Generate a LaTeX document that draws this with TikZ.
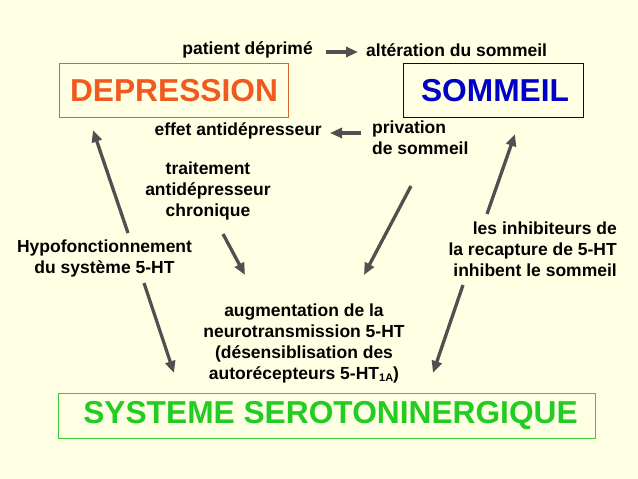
\documentclass[tikz,border=0pt]{standalone}
\usepackage{fontspec}
\setmainfont{Liberation Sans}
\usetikzlibrary{arrows.meta}
\definecolor{bg}{HTML}{FFFFE3}
\definecolor{arr}{HTML}{505050}
\definecolor{deporange}{HTML}{F05A1E}
\definecolor{depborder}{HTML}{D2692D}
\definecolor{sblue}{HTML}{0000C8}
\definecolor{sborder}{HTML}{000070}
\definecolor{sgreen}{HTML}{22CC22}
\definecolor{gborder}{HTML}{3CC83C}
\tikzset{
  small/.style={font=\fontsize{17.5}{21}\selectfont\bfseries, inner sep=0pt, align=center},
  bigbox/.style={draw, line width=1pt, font=\fontsize{31.7}{34}\selectfont\bfseries, inner sep=0pt},
  conn/.style={draw=arr, line width=3.3pt, -{Triangle[length=12pt,width=10pt]}},
}
\begin{document}
\begin{tikzpicture}[x=1pt,y=-1pt]
\fill[bg] (0,0) rectangle (638,479);
\useasboundingbox (0,0) rectangle (638,479);

% boxes
\draw[depborder, line width=1pt] (59,63) rectangle (288,117);
\node[bigbox, draw=none, text=deporange] (dep) at (174,91) {DEPRESSION};
\draw[sborder, line width=1pt] (403,63) rectangle (583,117);
\node[bigbox, draw=none, text=sblue] (som) at (495,91) {SOMMEIL};
\draw[gborder, line width=1pt] (58,393) rectangle (595,438);
\node[bigbox, draw=none, text=sgreen] (sys) at (330.5,416) {SYSTEME SEROTONINERGIQUE};

% texts
\node[small, anchor=east] (pd) at (313,50) {patient déprimé};
\node[small, anchor=west] (alt) at (366,50) {altération du sommeil};
\node[small, anchor=east] (eff) at (322,131) {effet antidépresseur};
\node[small, anchor=north west, align=left] (priv) at (372,121) {privation\\de sommeil};
\node[small] (trait) at (208,190.5) {traitement\\antidépresseur\\chronique};
\node[small] (hypo) at (104.5,258) {Hypofonctionnement\\du système 5-HT};
\node[small, anchor=east, align=right] (inh) at (617,249) {les inhibiteurs de\\la recapture de 5-HT\\inhibent le sommeil\hspace{9pt}};
\node[small] (aug) at (304,343.5) {augmentation de la\\neurotransmission 5-HT\\(désensiblisation des\\autorécepteurs 5-HT\raisebox{-1.5pt}{\fontsize{11}{11}\selectfont 1A})};

% arrow end points
\coordinate (a1s) at (326,52); \coordinate (a1e) at (358,52);
\coordinate (a2s) at (361,133); \coordinate (a2e) at (330,133);
\coordinate (luS) at (128,233); \coordinate (luE) at (93,130);
\coordinate (ldS) at (144,283); \coordinate (ldE) at (174,373);
\coordinate (trS) at (223,234); \coordinate (trE) at (245,275);
\coordinate (prS) at (411,186); \coordinate (prE) at (364,275);
\coordinate (ruS) at (487,214); \coordinate (ruE) at (515,134);
\coordinate (rdS) at (463,285); \coordinate (rdE) at (433,373);

\draw[conn] (a1s) -- (a1e);
\draw[conn] (a2s) -- (a2e);
\draw[conn] (luS) -- (luE);
\draw[conn] (ldS) -- (ldE);
\draw[conn] (trS) -- (trE);
\draw[conn] (prS) -- (prE);
\draw[conn] (ruS) -- (ruE);
\draw[conn] (rdS) -- (rdE);
\end{tikzpicture}
\end{document}
